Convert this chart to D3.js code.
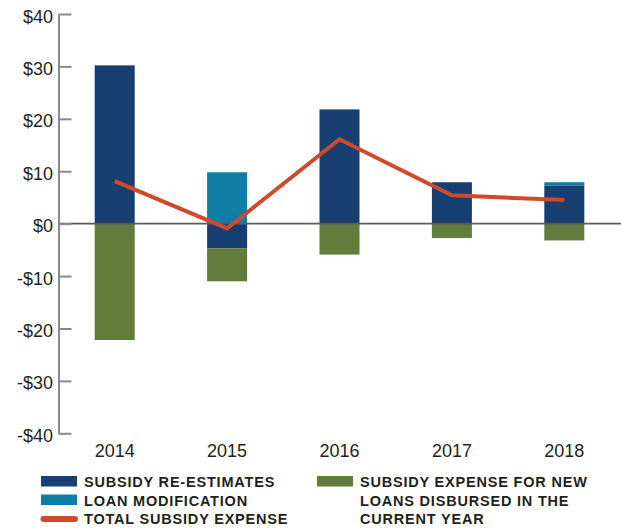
<!DOCTYPE html>
<html>
<head>
<meta charset="utf-8">
<script src="https://cdn.jsdelivr.net/npm/d3@7"></script>
<style>
  body { margin: 0; background: #fff; }
  svg { display: block; font-family: "Liberation Sans", Arial, sans-serif; }
</style>
</head>
<body>
<svg id="chart" width="621" height="529"></svg>
<script>
// values in $ billions
const years = ["2014", "2015", "2016", "2017", "2018"];
const reEstimates = [30.2, -4.7, 21.8, 7.9, 7.3];
const loanModification = [0, 9.8, 0, 0, 0.6];
const newLoans = [-22.2, -6.3, -5.9, -2.75, -3.2];
const totalExpense = [8.1, -0.9, 16.1, 5.4, 4.5];
const yTicks = [-40, -30, -20, -10, 0, 10, 20, 30, 40];

const colors = { reEst: "#173f72", loanMod: "#0f7ea6", newLoans: "#627c3c", total: "#cf4a2b" };

const svg = d3.select("#chart");

const x = d3.scaleBand().domain(years).range([58.5, 620.5])
    .paddingInner(0.644).paddingOuter(0.322);
const y = d3.scaleLinear().domain([-40, 40]).range([433.3, 14]);

const rows = years.map((yr, i) => ({
    year: yr, reEst: reEstimates[i], loanMod: loanModification[i], newLoans: newLoans[i]
}));
const keys = ["reEst", "loanMod", "newLoans"];
const series = d3.stack().keys(keys).offset(d3.stackOffsetDiverging)(rows);

// bars
svg.append("g").selectAll("g")
    .data(series)
    .join("g")
    .attr("fill", d => colors[d.key])
    .selectAll("rect")
    .data(d => d)
    .join("rect")
    .attr("x", d => x(d.data.year))
    .attr("width", x.bandwidth())
    .attr("y", d => y(Math.max(d[0], d[1])))
    .attr("height", d => Math.abs(y(d[0]) - y(d[1])));

// zero line
svg.append("line")
    .attr("x1", x.range()[0]).attr("x2", 621)
    .attr("y1", y(0)).attr("y2", y(0))
    .attr("stroke", "#5a5a5a").attr("stroke-width", 1.8);

// y axis, ticks pointing inward
const yAxis = d3.axisLeft(y)
    .tickValues(yTicks)
    .tickSizeInner(-13)
    .tickSizeOuter(0)
    .tickPadding(5.5)
    .tickFormat(d => (d < 0 ? "-$" : "$") + Math.abs(d));

const gy = svg.append("g")
    .attr("transform", `translate(${x.range()[0]},0)`)
    .call(yAxis);
gy.select(".domain").attr("stroke", "#8a8a8a").attr("stroke-width", 2);
gy.selectAll(".tick line").attr("stroke", "#8a8a8a").attr("stroke-width", 2);
gy.selectAll(".tick text")
    .attr("font-size", 18).attr("fill", "#231f20")
    .attr("dy", null).attr("y", 8);

// x axis labels only
const gx = svg.append("g")
    .attr("transform", "translate(0,444)")
    .call(d3.axisBottom(x).tickSize(0).tickPadding(0));
gx.select(".domain").remove();
gx.selectAll(".tick text").attr("font-size", 18).attr("fill", "#231f20");

// total subsidy expense line
const line = d3.line()
    .x((d, i) => x(years[i]) + x.bandwidth() / 2)
    .y(d => y(d));

svg.append("path")
    .datum(totalExpense)
    .attr("fill", "none")
    .attr("stroke", colors.total)
    .attr("stroke-width", 4)
    .attr("stroke-linejoin", "miter")
    .attr("d", line);

// legend
const legendItems = [
    { lines: ["SUBSIDY RE-ESTIMATES"], color: colors.reEst, type: "box", x: 41, y: 487 },
    { lines: ["LOAN MODIFICATION"], color: colors.loanMod, type: "box", x: 41, y: 505.5 },
    { lines: ["TOTAL SUBSIDY EXPENSE"], color: colors.total, type: "line", x: 41, y: 524 },
    { lines: ["SUBSIDY EXPENSE FOR NEW", "LOANS DISBURSED IN THE", "CURRENT YEAR"],
      color: colors.newLoans, type: "box", x: 317, y: 487 }
];

const legend = svg.append("g").selectAll("g")
    .data(legendItems)
    .join("g")
    .attr("transform", d => `translate(${d.x},${d.y})`);

legend.filter(d => d.type === "box").append("rect")
    .attr("x", 0).attr("y", -11).attr("width", 36).attr("height", 10.5)
    .attr("fill", d => d.color);

legend.filter(d => d.type === "line").append("line")
    .attr("x1", 2.5).attr("x2", 34).attr("y1", -5).attr("y2", -5)
    .attr("stroke", d => d.color).attr("stroke-width", 6)
    .attr("stroke-linecap", "round");

legend.append("text")
    .attr("x", 43)
    .attr("font-size", 14.5)
    .attr("font-weight", "bold")
    .attr("letter-spacing", 0.8)
    .attr("fill", "#231f20")
    .selectAll("tspan")
    .data(d => d.lines)
    .join("tspan")
    .attr("x", 43)
    .attr("dy", (d, i) => i === 0 ? 0 : 18.5)
    .text(d => d);
</script>
</body>
</html>
